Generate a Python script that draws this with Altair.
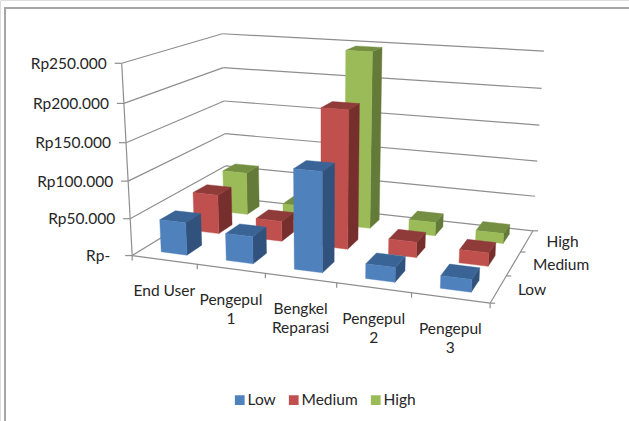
import altair as alt
import numpy as np
import pandas as pd

categories = ["End User", "Pengepul 1", "Bengkel Reparasi", "Pengepul 2", "Pengepul 3"]
category_lines = [["End User"], ["Pengepul", "1"], ["Bengkel", "Reparasi"], ["Pengepul", "2"], ["Pengepul", "3"]]
series = ["Low", "Medium", "High"]
low = [44000, 36000, 130000, 19000, 16000]
medium = [55000, 28000, 187000, 21000, 18000]
high = [62000, 22000, 247000, 19000, 14000]
value_ticks = [0, 50000, 100000, 150000, 200000, 250000]
value_labels = ["Rp-", "Rp50.000", "Rp100.000", "Rp150.000", "Rp200.000", "Rp250.000"]

front_colors = ["#4F81BD", "#C0504D", "#9BBB59"]
top_colors = ["#3B6496", "#8F3B39", "#748E42"]
side_colors = ["#31527C", "#772F2D", "#637A38"]
grid_color = "#8E8E8E"
font = "Lato"

W, H = 629, 421
BAR_W, BAR_D = 0.40, 0.45
V_MAX = 250000

# Camera: fit a 3x4 perspective matrix to the corners of the chart box
box_corners = [
    ((0, 0, 0), (132, 256)), ((1, 0, 0), (490, 303)), ((1, 1, 0), (533, 231)),
    ((0, 1, 0), (227, 197)), ((0, 0, 1), (122, 63)), ((0, 1, 1), (222, 34)),
    ((1, 1, 1), (544, 51)),
]
A, b = [], []
for (u, v, w), (sx, sy) in box_corners:
    A.append([u, v, w, 1, 0, 0, 0, 0, -sx * u, -sx * v, -sx * w])
    b.append(sx)
    A.append([0, 0, 0, 0, u, v, w, 1, -sy * u, -sy * v, -sy * w])
    b.append(sy)
m = np.linalg.lstsq(np.array(A, float), np.array(b, float), rcond=None)[0]
P = np.append(m, 1.0).reshape(3, 4)


def project(u, v, w):
    x, y, z = P @ np.array([u, v, w, 1.0])
    return x / z, y / z


# Bar faces, painted from the back row forward and left to right
faces = []


def add_face(pts, color):
    fid = f"f{len(faces):03d}"
    for i, p in enumerate(list(pts) + [pts[0]]):
        sx, sy = project(*p)
        faces.append({"face": fid, "i": i, "x": sx, "y": sy, "c": color})


rows = [low, medium, high]
for s in (2, 1, 0):
    for c in range(len(categories)):
        h = rows[s][c] / V_MAX
        u0 = (c + 0.5 - BAR_W / 2) / len(categories)
        u1 = (c + 0.5 + BAR_W / 2) / len(categories)
        v0 = (s + 0.5 - BAR_D / 2) / len(series)
        v1 = (s + 0.5 + BAR_D / 2) / len(series)
        add_face([(u1, v0, 0), (u1, v1, 0), (u1, v1, h), (u1, v0, h)], side_colors[s])
        add_face([(u0, v0, h), (u1, v0, h), (u1, v1, h), (u0, v1, h)], top_colors[s])
        add_face([(u0, v0, 0), (u1, v0, 0), (u1, v0, h), (u0, v0, h)], front_colors[s])
faces = pd.DataFrame(faces)

# Wall grid, floor edges and tick marks
segments = []


def add_segment(p, q):
    sid = len(segments) // 2
    segments.extend([{"seg": sid, "i": 0, "x": p[0], "y": p[1]}, {"seg": sid, "i": 1, "x": q[0], "y": q[1]}])


for t in value_ticks:
    w = t / V_MAX
    a, d, e = project(0, 0, w), project(0, 1, w), project(1, 1, w)
    add_segment(a, d)
    add_segment(d, e)
    add_segment((a[0] - 7, a[1]), a)
add_segment(project(0, 0, 0), project(0, 0, 1))
add_segment(project(0, 0, 0), project(1, 0, 0))
add_segment(project(1, 0, 0), project(1, 1, 0))
for k in range(len(categories) + 1):
    p = project(k / len(categories), 0, 0)
    add_segment(p, (p[0], p[1] + 5))
for k in range(len(series) + 1):
    p = project(1, k / len(series), 0)
    add_segment(p, (p[0] + 5, p[1]))
segments = pd.DataFrame(segments)

# Text beside the axes
texts = []
for t, label in zip(value_ticks, value_labels):
    p = project(0, 0, t / V_MAX)
    gap = 22 if t == 0 else 15
    texts.append({"x": p[0] - gap, "y": p[1] + 0.5, "t": label, "a": "right"})
for k, lines in enumerate(category_lines):
    p = project((k + 0.5) / len(categories), 0, 0)
    for n, line in enumerate(lines):
        texts.append({"x": p[0], "y": p[1] + 31 + n * 19.5, "t": line, "a": "center"})
for s, name in enumerate(series):
    p = project(1, (s + 0.5) / len(series), 0)
    texts.append({"x": p[0] + 19.5, "y": p[1] + 1, "t": name, "a": "left"})
texts = pd.DataFrame(texts)

x_enc = alt.X("x:Q", scale=alt.Scale(domain=[0, W], range=[0, W]), axis=None)
y_enc = alt.Y("y:Q", scale=alt.Scale(domain=[0, H], range=[0, H]), axis=None)

frame = alt.Chart(pd.DataFrame({"x": [5, 5, W], "y": [H, 8, 8], "i": [0, 1, 2]})).mark_line(
    color="#A6A6A6", strokeWidth=2
).encode(x=x_enc, y=y_enc, order="i:O")

grid = alt.Chart(segments).mark_line(color=grid_color, strokeWidth=1.2).encode(
    x=x_enc, y=y_enc, detail="seg:N", order="i:O"
)

bars = alt.Chart(faces).mark_line(strokeWidth=0.4).encode(
    x=x_enc, y=y_enc, detail="face:N", order="i:O",
    fill=alt.Fill("c:N", scale=None),
    stroke=alt.Stroke("c:N", scale=None),
)

labels = []
for align in ("right", "center", "left"):
    labels.append(
        alt.Chart(texts[texts.a == align]).mark_text(
            font=font, fontSize=15.5, color="#262626", align=align, baseline="middle"
        ).encode(x=x_enc, y=y_enc, text="t:N")
    )

legend_key = alt.Chart(pd.DataFrame({"s": series, "x": [0, 0, 0], "y": [0, 0, 0]})).mark_square(
    opacity=0, size=1
).encode(
    x=x_enc, y=y_enc,
    color=alt.Color(
        "s:N",
        scale=alt.Scale(domain=series, range=front_colors),
        legend=alt.Legend(
            orient="none", legendX=232, legendY=392, direction="horizontal", title=None,
            symbolType="square", symbolSize=95, symbolOpacity=1, symbolStrokeWidth=0,
            labelFont=font, labelFontSize=15.5, labelColor="#262626", columnPadding=10,
            labelOffset=0,
        ),
    ),
)

chart = alt.layer(frame, grid, bars, *labels, legend_key).properties(
    width=W, height=H, padding=0, autosize=alt.AutoSizeParams(type="none")
).configure_view(stroke=None).configure(background="white")

chart.save("out.html", embed_options={"renderer": "svg", "actions": False})
